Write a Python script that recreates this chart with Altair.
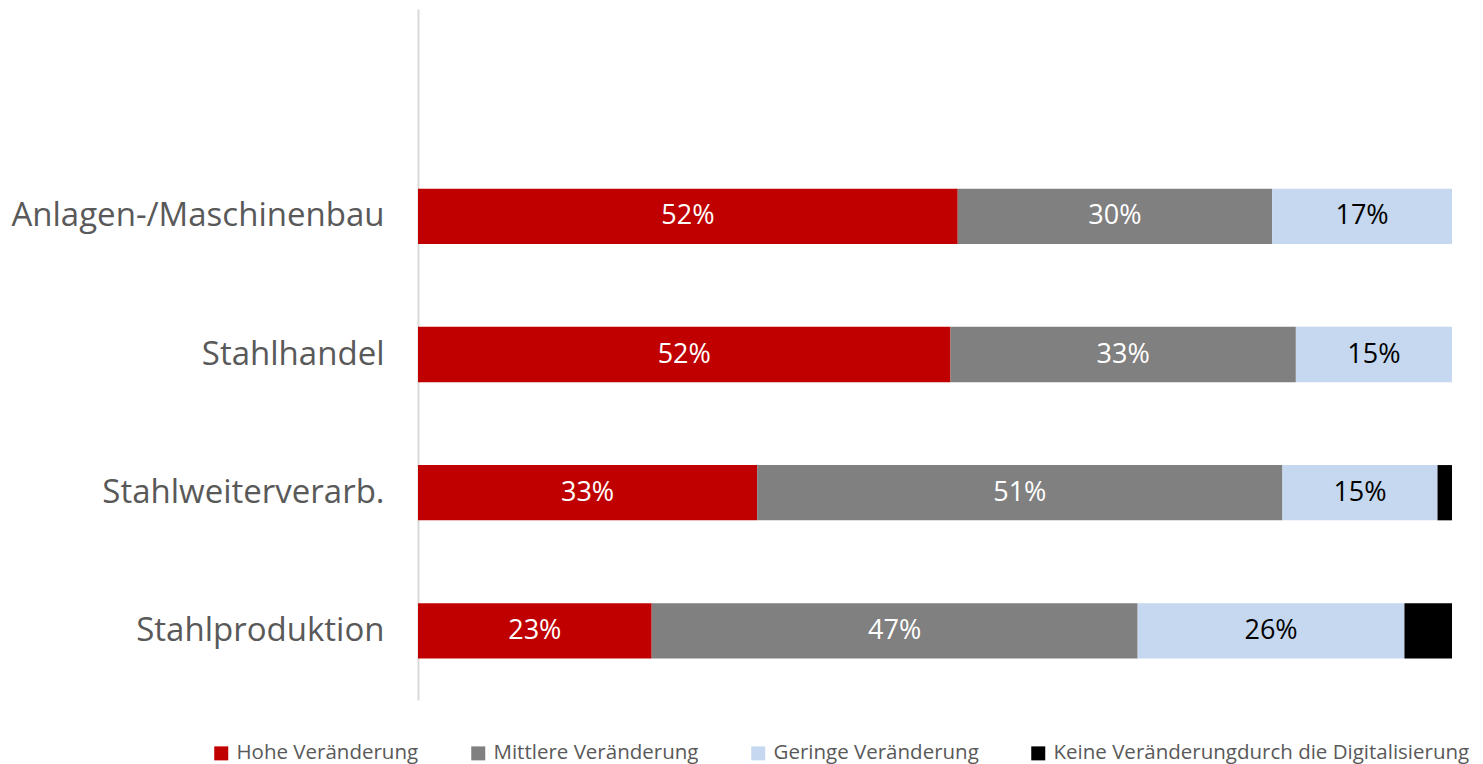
import altair as alt
import pandas as pd

categories = ["Anlagen-/Maschinenbau", "Stahlhandel", "Stahlweiterverarb.", "Stahlproduktion"]
series = ["Hohe Veränderung", "Mittlere Veränderung", "Geringe Veränderung",
          "Keine Veränderungdurch die Digitalisierung"]
colors = ["#C00000", "#808080", "#C5D8EF", "#000000"]
label_colors = ["#FFFFFF", "#FFFFFF", "#000000", "#000000"]

hohe = [52.2, 51.5, 32.8, 22.6]
mittlere = [30.4, 33.4, 50.8, 47.0]
geringe = [17.4, 15.1, 15.0, 25.8]
keine = [0.0, 0.0, 1.4, 4.6]

rows = []
for s_i, (name, vals) in enumerate(zip(series, [hohe, mittlere, geringe, keine])):
    for c, v in zip(categories, vals):
        rows.append({"cat": c, "series": name, "value": v, "ord": s_i,
                     "lcolor": label_colors[s_i]})
df = pd.DataFrame(rows)

y_domain = [" "] + categories

base = alt.Chart(df).transform_stack(
    stack="value", groupby=["cat"], as_=["x0", "x1"],
    sort=[alt.SortField("ord", order="ascending")]
).transform_calculate(
    mid="(datum.x0 + datum.x1) / 2",
    label="format(datum.value, '.0f') + '%'"
)

y_enc = alt.Y("cat:N", title=None,
              scale=alt.Scale(domain=y_domain, paddingInner=0.6, paddingOuter=0.3),
              axis=alt.Axis(labelFont="Open Sans", labelFontSize=33, labelColor="#595959",
                            ticks=False, domainColor="#D9D9D9", domainWidth=2,
                            labelPadding=34, labelLimit=0))

bars = base.mark_bar().encode(
    x=alt.X("x0:Q", scale=alt.Scale(domain=[0, 100]), axis=None),
    x2="x1:Q",
    y=y_enc,
    color=alt.Color("series:N",
                    scale=alt.Scale(domain=series, range=colors),
                    legend=alt.Legend(title=None, orient="none", direction="horizontal",
                                      legendX=-207, legendY=734,
                                      symbolType="square", symbolSize=196,
                                      symbolStrokeWidth=0,
                                      labelFont="Open Sans", labelFontSize=20.5,
                                      labelColor="#595959", labelOffset=5,
                                      columnPadding=49, labelLimit=0)),
)

texts = base.transform_filter("datum.value >= 5").mark_text(
    font="Open Sans", fontSize=27, baseline="middle", align="center"
).encode(
    x=alt.X("mid:Q", scale=alt.Scale(domain=[0, 100]), axis=None),
    y=alt.Y("cat:N", scale=alt.Scale(domain=y_domain)),
    text=alt.Text("label:N"),
    color=alt.Color("lcolor:N", scale=None),
)

chart = alt.layer(bars, texts).properties(
    width=1034, height=691,
    autosize=alt.AutoSizeParams(type="none"),
    padding={"left": 410, "top": 1, "right": 23, "bottom": 66},
).configure(background="white").configure_view(stroke=None, strokeWidth=0)

chart.save("out.html", embed_options={"renderer": "svg", "actions": False})
